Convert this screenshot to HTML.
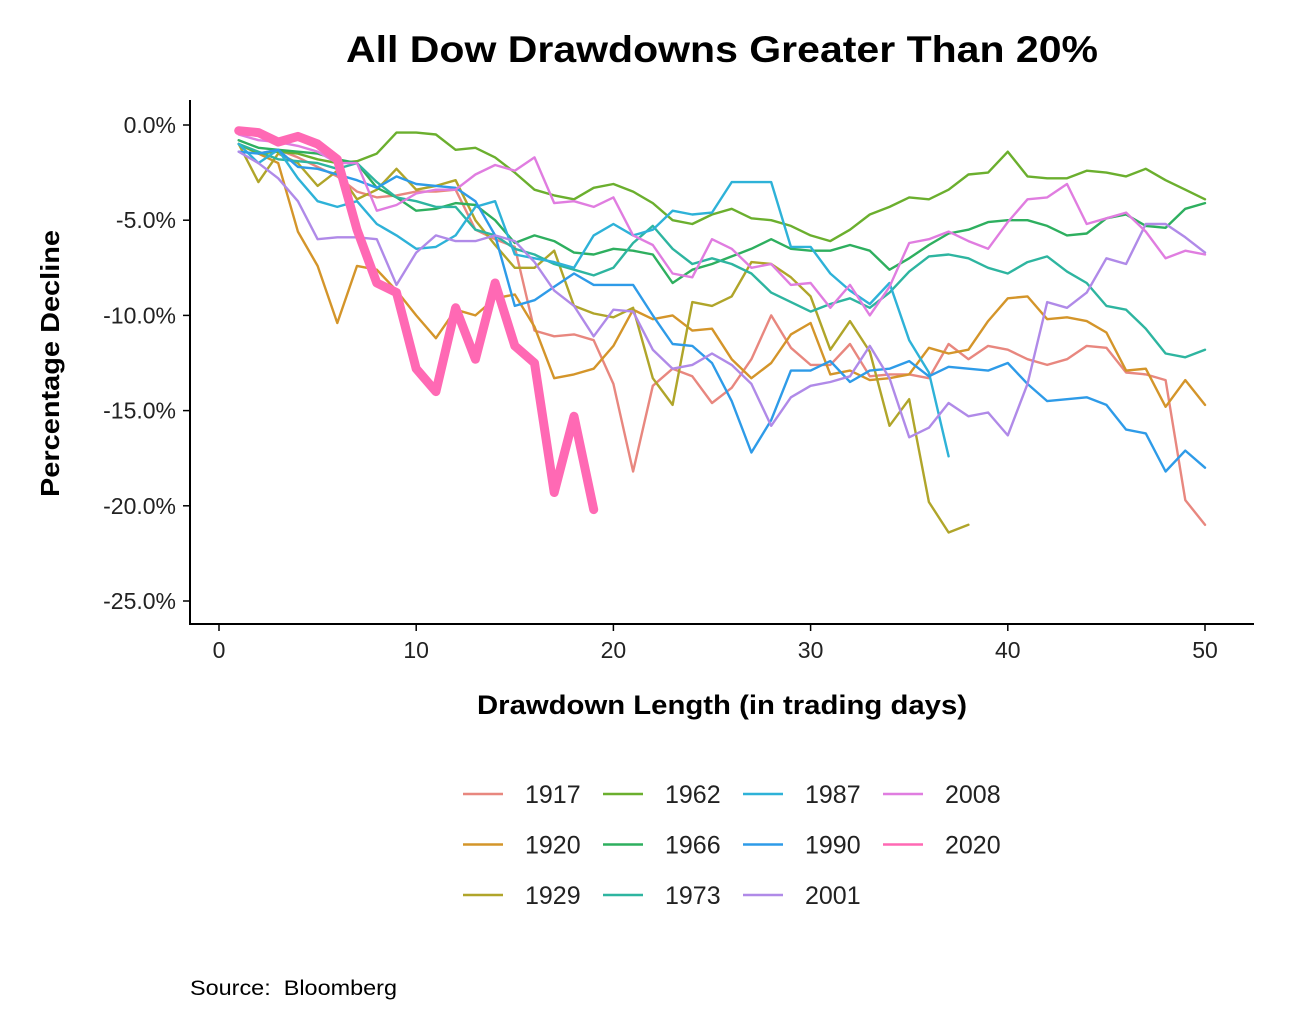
<!DOCTYPE html>
<html><head><meta charset="utf-8"><style>
body{margin:0;background:#fff;}
svg{display:block;font-family:"Liberation Sans",Arial,sans-serif;}
</style></head><body>
<svg id="chart" width="1315" height="1016" viewBox="0 0 1315 1016">
<rect width="1315" height="1016" fill="#fff"/>
<text x="346" y="62" textLength="752" lengthAdjust="spacingAndGlyphs" font-size="37" font-weight="bold" fill="#000">All Dow Drawdowns Greater Than 20%</text>
<g id="plot"></g>
<g id="axes"></g>
<text transform="translate(59,497) rotate(-90)" textLength="267" lengthAdjust="spacingAndGlyphs" font-size="26" font-weight="bold">Percentage Decline</text>
<text x="477" y="714" textLength="490" lengthAdjust="spacingAndGlyphs" font-size="27" font-weight="bold">Drawdown Length (in trading days)</text>
<g id="legend"></g>
<text x="190" y="995" textLength="207" lengthAdjust="spacingAndGlyphs" font-size="21" xml:space="preserve">Source:  Bloomberg</text>
</svg>
<script>
const years=["1917","1920","1929","1962","1966","1973","1987","1990","2001","2008","2020"];
const colors=["#E8877F","#D4952A","#B0A52A","#6BAF2E","#2EAF5F","#2EB5A0","#2EB2D8","#2E9BE8","#B08AE8","#E07DE0","#FF69B4"];
const xTicks=[0,10,20,30,40,50];
const yTicks=[0,-5,-10,-15,-20,-25];
const s1917=[-1.0,-1.5,-1.3,-1.7,-2.2,-2.7,-3.5,-3.8,-3.7,-3.5,-3.5,-3.4,-5.5,-6.0,-6.4,-10.8,-11.1,-11.0,-11.3,-13.6,-18.2,-13.7,-12.8,-13.2,-14.6,-13.8,-12.3,-10.0,-11.7,-12.6,-12.6,-11.5,-13.2,-13.1,-13.1,-13.3,-11.5,-12.3,-11.6,-11.8,-12.3,-12.6,-12.3,-11.6,-11.7,-13.0,-13.1,-13.4,-19.7,-21.0];
const s1920=[-1.0,-1.5,-2.0,-5.6,-7.4,-10.4,-7.4,-7.6,-8.7,-10.0,-11.2,-9.7,-10.0,-9.1,-8.9,-10.6,-13.3,-13.1,-12.8,-11.6,-9.7,-10.2,-10.0,-10.8,-10.7,-12.3,-13.3,-12.5,-11.0,-10.4,-13.1,-12.9,-13.4,-13.3,-13.1,-11.7,-12.0,-11.8,-10.3,-9.1,-9.0,-10.2,-10.1,-10.3,-10.9,-12.9,-12.8,-14.8,-13.4,-14.7];
const s1929=[-1.0,-3.0,-1.5,-2.0,-3.2,-2.4,-3.9,-3.4,-2.3,-3.4,-3.2,-2.9,-5.0,-6.3,-7.5,-7.5,-6.6,-9.5,-9.9,-10.1,-9.6,-13.3,-14.7,-9.3,-9.5,-9.0,-7.2,-7.3,-8.0,-9.0,-11.8,-10.3,-11.9,-15.8,-14.4,-19.8,-21.4,-21.0];
const s1962=[-1.0,-1.5,-1.4,-1.5,-1.8,-2.0,-1.9,-1.5,-0.4,-0.4,-0.5,-1.3,-1.2,-1.7,-2.5,-3.4,-3.7,-3.9,-3.3,-3.1,-3.5,-4.1,-5.0,-5.2,-4.7,-4.4,-4.9,-5.0,-5.3,-5.8,-6.1,-5.5,-4.7,-4.3,-3.8,-3.9,-3.4,-2.6,-2.5,-1.4,-2.7,-2.8,-2.8,-2.4,-2.5,-2.7,-2.3,-2.9,-3.4,-3.9];
const s1966=[-0.8,-1.2,-1.3,-1.4,-1.5,-1.8,-2.0,-3.3,-3.8,-4.5,-4.4,-4.1,-4.2,-5.0,-6.2,-5.8,-6.1,-6.7,-6.8,-6.5,-6.6,-6.8,-8.3,-7.6,-7.3,-6.9,-6.5,-6.0,-6.5,-6.6,-6.6,-6.3,-6.6,-7.6,-7.0,-6.3,-5.7,-5.5,-5.1,-5.0,-5.0,-5.3,-5.8,-5.7,-4.9,-4.7,-5.3,-5.4,-4.4,-4.1];
const s1973=[-1.0,-1.4,-1.8,-1.9,-2.0,-2.3,-2.0,-3.0,-3.8,-4.0,-4.3,-4.3,-5.5,-5.8,-6.5,-6.8,-7.3,-7.6,-7.9,-7.5,-6.2,-5.3,-6.5,-7.3,-7.0,-7.3,-7.8,-8.8,-9.3,-9.8,-9.4,-9.1,-9.6,-8.8,-7.7,-6.9,-6.8,-7.0,-7.5,-7.8,-7.2,-6.9,-7.7,-8.3,-9.5,-9.7,-10.7,-12.0,-12.2,-11.8];
const s1987=[-1.0,-2.0,-1.3,-2.8,-4.0,-4.3,-4.0,-5.2,-5.8,-6.5,-6.4,-5.8,-4.3,-4.0,-6.8,-7.0,-7.2,-7.5,-5.8,-5.2,-5.8,-5.5,-4.5,-4.7,-4.6,-3.0,-3.0,-3.0,-6.4,-6.4,-7.8,-8.7,-9.4,-8.3,-11.3,-13.0,-17.4];
const s1990=[-1.4,-1.5,-1.3,-2.2,-2.3,-2.6,-2.9,-3.3,-2.7,-3.1,-3.2,-3.3,-4.0,-5.8,-9.5,-9.2,-8.5,-7.8,-8.4,-8.4,-8.4,-10.0,-11.5,-11.6,-12.5,-14.5,-17.2,-15.5,-12.9,-12.9,-12.4,-13.5,-12.9,-12.8,-12.4,-13.2,-12.7,-12.8,-12.9,-12.5,-13.6,-14.5,-14.4,-14.3,-14.7,-16.0,-16.2,-18.2,-17.1,-18.0];
const s2001=[-1.4,-2.0,-2.8,-4.0,-6.0,-5.9,-5.9,-6.0,-8.4,-6.7,-5.8,-6.1,-6.1,-5.8,-6.1,-7.2,-8.7,-9.5,-11.1,-9.7,-9.8,-11.8,-12.8,-12.6,-12.0,-12.6,-13.6,-15.8,-14.3,-13.7,-13.5,-13.2,-11.6,-13.3,-16.4,-15.9,-14.6,-15.3,-15.1,-16.3,-13.6,-9.3,-9.6,-8.8,-7.0,-7.3,-5.2,-5.2,-5.9,-6.7];
const s2008=[-0.5,-0.8,-0.9,-1.1,-1.4,-2.0,-2.0,-4.5,-4.2,-3.6,-3.4,-3.4,-2.6,-2.1,-2.4,-1.7,-4.1,-4.0,-4.3,-3.8,-5.8,-6.3,-7.8,-8.0,-6.0,-6.5,-7.5,-7.3,-8.4,-8.3,-9.6,-8.4,-10.0,-8.5,-6.2,-6.0,-5.6,-6.1,-6.5,-5.1,-3.9,-3.8,-3.1,-5.2,-4.9,-4.6,-5.6,-7.0,-6.6,-6.8];
const s2020=[-0.3,-0.4,-0.9,-0.6,-1.0,-1.8,-5.5,-8.3,-8.8,-12.8,-14.0,-9.6,-12.3,-8.3,-11.6,-12.5,-19.3,-15.3,-20.2];
const series=[s1917,s1920,s1929,s1962,s1966,s1973,s1987,s1990,s2001,s2008,s2020];

const NS="http://www.w3.org/2000/svg";
const xScale=d=>219+d*(1205-219)/50;
const yScale=v=>125+(-v)*(601-125)/25;
function mk(tag,attrs,parent){const e=document.createElementNS(NS,tag);for(const k in attrs)e.setAttribute(k,attrs[k]);parent.appendChild(e);return e;}
const plot=document.getElementById('plot'),axes=document.getElementById('axes'),legend=document.getElementById('legend');

series.forEach((vals,si)=>{
  const pts=vals.map((v,i)=>xScale(i+1).toFixed(1)+","+yScale(v).toFixed(1)).join(" ");
  const pl=mk('polyline',{points:pts,fill:"none",stroke:colors[si],"stroke-width":years[si]==="2020"?9:2.4,"stroke-linejoin":"round","stroke-linecap":"round"},plot);
  
  
});

const ya=mk('line',{x1:190,y1:100,x2:190,y2:624,stroke:"#000","stroke-width":2},axes);


const xa=mk('line',{x1:189,y1:624,x2:1254,y2:624,stroke:"#000","stroke-width":2},axes);


yTicks.forEach(t=>{
  const y=yScale(t);
  mk('line',{x1:183,y1:y,x2:190,y2:y,stroke:"#000","stroke-width":1.5},axes);
  const tx=mk('text',{x:176,y:y+8,"text-anchor":"end","font-size":23,fill:"#222"},axes);
  tx.textContent=t.toFixed(1)+"%";
  
  
});
xTicks.forEach(t=>{
  const x=xScale(t);
  mk('line',{x1:x,y1:624,x2:x,y2:631,stroke:"#000","stroke-width":1.5},axes);
  const tx=mk('text',{x:x,y:658,"text-anchor":"middle","font-size":23,fill:"#222"},axes);
  tx.textContent=t;
  
  
});
years.forEach((yr,i)=>{
  const col=Math.floor(i/3),row=i%3;
  const lx=463+col*140,ly=794+row*50.5;
  const g=mk('g',{},legend);
  
  
  mk('line',{x1:lx,y1:ly,x2:lx+40,y2:ly,stroke:colors[i],"stroke-width":2.5},g);
  const t=mk('text',{x:lx+62,y:ly+9,"font-size":25,fill:"#222"},g);
  t.textContent=yr;
});
</script>
</body></html>
